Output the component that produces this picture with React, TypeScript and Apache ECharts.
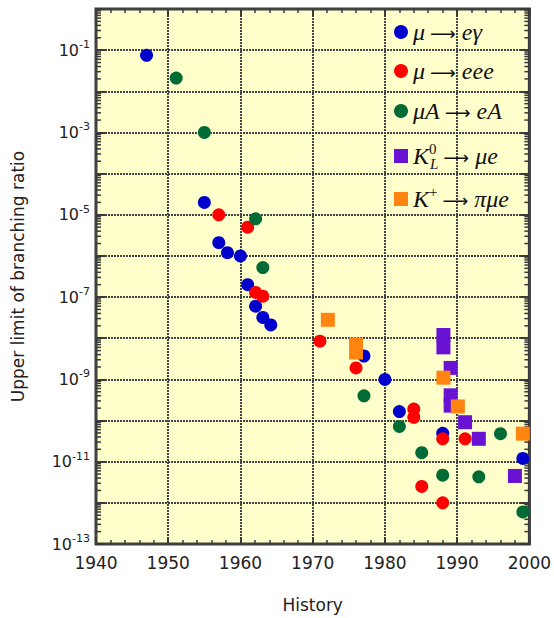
import React, { useEffect, useRef } from "react";
import * as echarts from "echarts";

// ---- Data (year, upper limit of branching ratio) ----
const muEGamma: [number, number][] = [
  [1947.0, 7.5e-2], [1955.0, 2e-5], [1957.0, 2.1e-6], [1958.2, 1.2e-6],
  [1960.0, 1e-6], [1961.0, 2e-7], [1962.1, 6e-8], [1963.1, 3.2e-8],
  [1964.2, 2.1e-8], [1977.1, 3.7e-9], [1980.0, 1e-9], [1982.0, 1.65e-10],
  [1988.0, 4.9e-11], [1999.1, 1.2e-11],
];
const muEEE: [number, number][] = [
  [1957.0, 1e-5], [1961.0, 5e-6], [1962.1, 1.3e-7], [1963.1, 1.05e-7],
  [1971.0, 8.5e-9], [1976.0, 1.9e-9], [1984.0, 1.9e-10], [1984.0, 1.2e-10],
  [1985.1, 2.5e-12], [1988.0, 3.6e-11], [1988.0, 1e-12], [1991.1, 3.6e-11],
];
const muAeA: [number, number][] = [
  [1951.1, 2.1e-2], [1955.0, 1e-3], [1962.1, 8e-6], [1963.1, 5.2e-7],
  [1977.1, 4e-10], [1982.0, 7.2e-11], [1985.1, 1.65e-11], [1988.0, 4.7e-12],
  [1993.0, 4.3e-12], [1996.0, 4.8e-11], [1999.1, 6e-13],
];
const kLMuE: [number, number][] = [
  [1988.1, 1.2e-8], [1988.1, 6e-9], [1989.1, 1.9e-9], [1989.1, 4.1e-10],
  [1989.1, 2.3e-10], [1991.1, 9.1e-11], [1993.0, 3.6e-11], [1998.0, 4.5e-12],
];
const kPlusPiMuE: [number, number][] = [
  [1972.1, 2.8e-8], [1976.0, 7e-9], [1976.0, 4.5e-9], [1988.1, 1.1e-9],
  [1990.1, 2.2e-10], [1999.1, 4.8e-11],
];

const seriesNames = ["mu-egamma", "mu-eee", "muA-eA", "KL-mue", "Kplus-pimue"];
const legendLabels: Record<string, string> = {
  "mu-egamma": "{i|μ}{a|⟶}{i|eγ}",
  "mu-eee": "{i|μ}{a|⟶}{i|eee}",
  "muA-eA": "{i|μA}{a|⟶}{i|eA}",
  "KL-mue": "{i|K}{sup|0}{sub|L}{a|⟶}{i|μe}",
  "Kplus-pimue": "{i|K}{sup2|+}{a|⟶}{i|πμe}",
};
const legendTops = [15, 54, 94, 136, 179];

const xMin = 1940;
const xMax = 2000;
const yMinExp = -13;
const yMaxExp = 0;

// minor log ticks positions (2..9 × 10^e)
const minorLogTicks: [number, number][] = [];
for (let e = yMinExp; e < yMaxExp; e++) {
  for (let m = 2; m <= 9; m++) minorLogTicks.push([xMin, m * Math.pow(10, e)]);
}

const FONT = "DejaVu Sans";
const SERIF = "Liberation Serif";

export default function App() {
  const ref = useRef<HTMLDivElement>(null);
  useEffect(() => {
    if (!ref.current) return;
    const chart = echarts.init(ref.current, undefined, { renderer: "svg" });
    const grid = { left: 96, top: 9, right: 18, bottom: 70 };
    const splitLineStyle = { color: "#444444", width: 2, type: [2, 1] as any };
    const xBase = {
      type: "value" as const,
      min: xMin,
      max: xMax,
      interval: 10,
    };
    const yBase = {
      type: "log" as const,
      logBase: 10,
      min: Math.pow(10, yMinExp),
      max: Math.pow(10, yMaxExp),
      interval: 1,
    };
    const scatter = (name: string, data: [number, number][], color: string, symbol: string, size: number) => ({
      name,
      type: "scatter" as const,
      data,
      symbol,
      symbolSize: size,
      itemStyle: { color, opacity: 1 },
      clip: false,
      z: 5,
    });
    const LH = 30;
    const legendText = {
      fontFamily: SERIF,
      color: "#111",
      rich: {
        i: { fontFamily: SERIF, fontStyle: "italic", fontSize: 24, lineHeight: LH, color: "#111" },
        a: { fontFamily: "DejaVu Sans", fontSize: 18, lineHeight: LH, color: "#111", padding: [2, 6, 0, 5] },
        sup: { fontFamily: SERIF, fontSize: 15, lineHeight: 15, verticalAlign: "top", width: 1, color: "#111" },
        sup2: { fontFamily: SERIF, fontSize: 15, lineHeight: 15, verticalAlign: "top", color: "#111" },
        sub: { fontFamily: SERIF, fontStyle: "italic", fontSize: 15, lineHeight: 15, verticalAlign: "bottom", color: "#111" },
      },
    };
    const legends = seriesNames.map((n, k) => ({
      data: [n],
      orient: "vertical",
      left: 389,
      top: legendTops[k],
      itemWidth: 14,
      itemHeight: 14,
      itemGap: 6,
      selectedMode: false,
      formatter: (name: string) => legendLabels[name],
      textStyle: legendText,
    }));
    chart.setOption({
      animation: false,
      grid: {
        ...grid,
        show: true,
        backgroundColor: "#ffffcc",
        borderColor: "#3a3a3a",
        borderWidth: 3,
      },
      legend: legends,
      xAxis: [
        {
          ...xBase,
          position: "bottom",
          name: "History",
          nameLocation: "middle",
          nameGap: 52,
          nameTextStyle: { fontFamily: FONT, fontSize: 17, color: "#222" },
          axisLine: { show: false },
          axisTick: { show: true, inside: true, length: 7, lineStyle: { color: "#3a3a3a", width: 2 } },
          minorTick: { show: true, splitNumber: 5, length: 4, lineStyle: { color: "#3a3a3a", width: 1.5 } },
          axisLabel: { fontFamily: FONT, fontSize: 17, color: "#222", margin: 10, formatter: (v: number) => String(v) },
          splitLine: { show: true, lineStyle: splitLineStyle },
        },
        {
          ...xBase,
          position: "top",
          axisLine: { show: false },
          axisTick: { show: true, inside: true, length: 7, lineStyle: { color: "#3a3a3a", width: 2 } },
          minorTick: { show: true, splitNumber: 5, length: 4, lineStyle: { color: "#3a3a3a", width: 1.5 } },
          axisLabel: { show: false },
          splitLine: { show: false },
        },
      ],
      yAxis: [
        {
          ...yBase,
          position: "left",
          name: "Upper limit of branching ratio",
          nameLocation: "middle",
          nameGap: 70,
          nameTextStyle: { fontFamily: FONT, fontSize: 17, color: "#222" },
          axisLine: { show: false },
          axisTick: { show: true, inside: true, length: 9, lineStyle: { color: "#3a3a3a", width: 2 } },
          axisLabel: {
            margin: 6,
            formatter: (v: number) => {
              const e = Math.round(Math.log10(v));
              if (e % 2 === 0) return "";
              return `{b|10}{s|${e}}`;
            },
            rich: {
              b: { fontFamily: FONT, fontSize: 16, color: "#222", lineHeight: 22 },
              s: { fontFamily: FONT, fontSize: 11, color: "#222", lineHeight: 11, verticalAlign: "top" },
            },
          },
          splitLine: { show: true, lineStyle: splitLineStyle },
        },
        {
          ...yBase,
          position: "right",
          axisLine: { show: false },
          axisTick: { show: true, inside: true, length: 9, lineStyle: { color: "#3a3a3a", width: 2 } },
          axisLabel: { show: false },
          splitLine: { show: false },
        },
      ],
      series: [
        scatter("mu-egamma", muEGamma, "#0000cc", "circle", 13),
        scatter("mu-eee", muEEE, "#ff0000", "circle", 13),
        scatter("muA-eA", muAeA, "#006b35", "circle", 13),
        scatter("KL-mue", kLMuE, "#6a12d4", "rect", 14),
        scatter("Kplus-pimue", kPlusPiMuE, "#ff8410", "rect", 14),
        {
          type: "custom",
          name: "minorTicks",
          silent: true,
          data: minorLogTicks,
          encode: { x: 0, y: 1 },
          clip: false,
          z: 3,
          renderItem: (params: any, api: any) => {
            const v = api.value(1);
            const pl = api.coord([xMin, v]);
            const pr = api.coord([xMax, v]);
            const st = { stroke: "#3a3a3a", lineWidth: 1.5 };
            return {
              type: "group",
              children: [
                { type: "line", shape: { x1: pl[0], y1: pl[1], x2: pl[0] + 5, y2: pl[1] }, style: st },
                { type: "line", shape: { x1: pr[0], y1: pr[1], x2: pr[0] - 5, y2: pr[1] }, style: st },
              ],
            };
          },
        },
      ],
    });
    return () => chart.dispose();
  }, []);
  return <div ref={ref} style={{ width: 554, height: 618, position: "absolute", left: 0, top: 0 }} />;
}
